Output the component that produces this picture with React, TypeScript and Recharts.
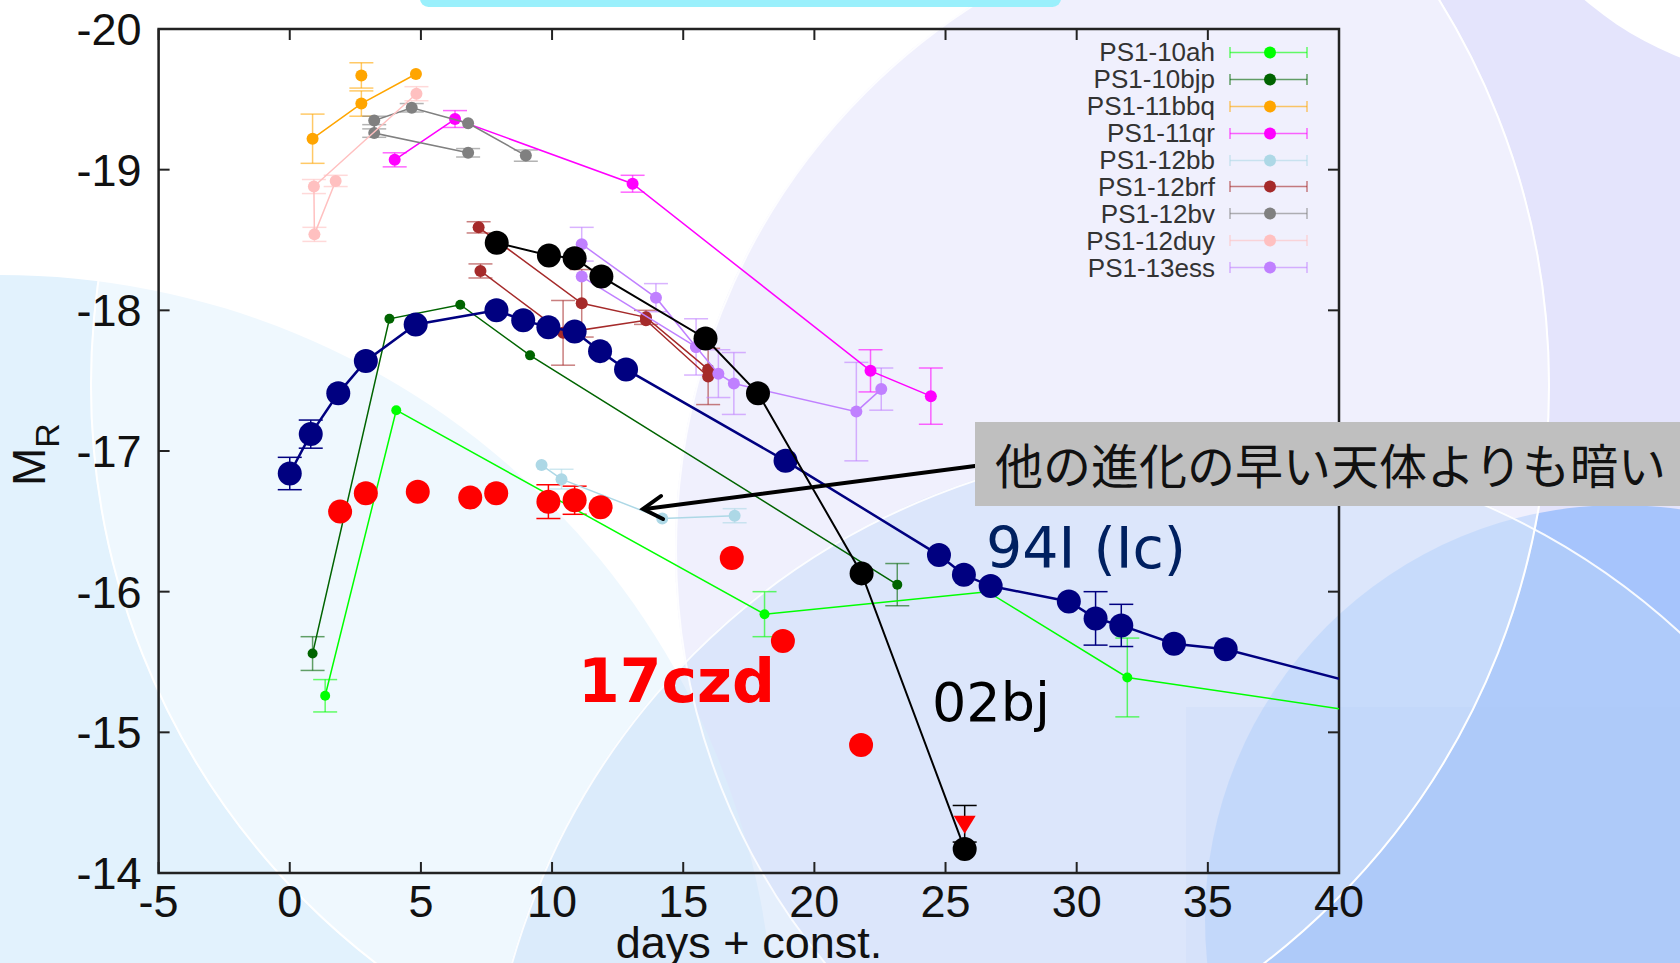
import React from 'react';
import {
    ScatterChart,
    Scatter,
    XAxis,
    YAxis,
    ErrorBar,
    ReferenceArea,
    Legend,
    Label,
} from 'recharts';

type Pt = { x: number; y: number; e?: number };

// PS1 fast transients
const ps1_10ah: Pt[] = [
    { x: 1.35, y: -15.26, e: 0.115 },
    { x: 4.06, y: -17.29 },
    { x: 18.1, y: -15.84, e: 0.16 },
    { x: 26.6, y: -16.0 },
    { x: 31.93, y: -15.39, e: 0.28 },
    { x: 45, y: -15.03 },
];
const ps1_10bjp: Pt[] = [
    { x: 0.87, y: -15.56, e: 0.12 },
    { x: 3.8, y: -17.94 },
    { x: 6.5, y: -18.04 },
    { x: 9.16, y: -17.68 },
    { x: 23.16, y: -16.05, e: 0.15 },
];
const ps1_11bbq: Pt[] = [
    { x: 0.87, y: -19.22, e: 0.175 },
    { x: 2.73, y: -19.47, e: 0.09 },
    { x: 4.81, y: -19.68 },
];
const ps1_11bbqExtra: Pt[] = [{ x: 2.73, y: -19.67, e: 0.09 }];
const ps1_11qr: Pt[] = [
    { x: 4.0, y: -19.07, e: 0.05 },
    { x: 6.3, y: -19.36, e: 0.06 },
    { x: 13.07, y: -18.9, e: 0.06 },
    { x: 22.14, y: -17.57, e: 0.15 },
    { x: 24.44, y: -17.39, e: 0.2 },
];
const ps1_12bb: Pt[] = [
    { x: 9.6, y: -16.9 },
    { x: 10.36, y: -16.8, e: 0.07 },
    { x: 14.2, y: -16.52 },
    { x: 16.96, y: -16.54, e: 0.05 },
];
const ps1_12brfA: Pt[] = [
    { x: 7.2, y: -18.59, e: 0.04 },
    { x: 11.13, y: -18.05, e: 0.24 },
    { x: 13.58, y: -17.95, e: 0.05 },
    { x: 15.95, y: -17.58 },
];
const ps1_12brfB: Pt[] = [
    { x: 7.27, y: -18.28, e: 0.05 },
    { x: 10.42, y: -17.84, e: 0.23 },
    { x: 13.58, y: -17.93 },
    { x: 15.95, y: -17.53, e: 0.2 },
];
const ps1_12bv: Pt[] = [
    { x: 6.8, y: -19.12, e: 0.03 },
    { x: 3.22, y: -19.26, e: 0.03 },
    { x: 3.22, y: -19.35, e: 0.03 },
    { x: 4.65, y: -19.44, e: 0.03 },
    { x: 6.8, y: -19.33 },
    { x: 9.0, y: -19.1, e: 0.04 },
];
const ps1_12duy: Pt[] = [
    { x: 4.83, y: -19.54, e: 0.05 },
    { x: 0.92, y: -18.88, e: 0.05 },
    { x: 0.94, y: -18.54, e: 0.05 },
    { x: 1.75, y: -18.92, e: 0.04 },
];
const ps1_13essA: Pt[] = [
    { x: 11.13, y: -18.47, e: 0.12 },
    { x: 13.96, y: -18.09, e: 0.1 },
    { x: 15.49, y: -17.74, e: 0.2 },
    { x: 16.34, y: -17.55, e: 0.17 },
    { x: 16.93, y: -17.48, e: 0.22 },
    { x: 21.6, y: -17.28, e: 0.35 },
    { x: 22.55, y: -17.44, e: 0.15 },
];
const ps1_13essB: Pt[] = [
    { x: 11.13, y: -18.24 },
    { x: 15.49, y: -17.74 },
];

// comparison SNe and 17czd
const sn1994I: Pt[] = [
    { x: 0, y: -16.84, e: 0.115 },
    { x: 0.8, y: -17.12, e: 0.1 },
    { x: 1.85, y: -17.41 },
    { x: 2.9, y: -17.64 },
    { x: 4.8, y: -17.9 },
    { x: 7.88, y: -18.0 },
    { x: 8.9, y: -17.93 },
    { x: 9.86, y: -17.88 },
    { x: 10.86, y: -17.85 },
    { x: 11.83, y: -17.71 },
    { x: 12.82, y: -17.58 },
    { x: 18.9, y: -16.93 },
    { x: 24.75, y: -16.26 },
    { x: 25.7, y: -16.12 },
    { x: 26.72, y: -16.04 },
    { x: 29.7, y: -15.93 },
    { x: 30.72, y: -15.81, e: 0.19 },
    { x: 31.7, y: -15.76, e: 0.15 },
    { x: 33.71, y: -15.63 },
    { x: 35.68, y: -15.59 },
    { x: 45, y: -15.14 },
];
const sn2002bj: Pt[] = [
    { x: 7.89, y: -18.48 },
    { x: 9.88, y: -18.39 },
    { x: 10.86, y: -18.37 },
    { x: 11.88, y: -18.24 },
    { x: 15.85, y: -17.8 },
    { x: 17.85, y: -17.41 },
    { x: 21.8, y: -16.13 },
    { x: 25.73, y: -14.17 },
];
const sn17czd: Pt[] = [
    { x: 1.92, y: -16.57 },
    { x: 2.9, y: -16.7 },
    { x: 4.88, y: -16.71 },
    { x: 6.88, y: -16.67 },
    { x: 7.87, y: -16.7 },
    { x: 9.86, y: -16.64, e: 0.12 },
    { x: 10.86, y: -16.65, e: 0.1 },
    { x: 11.85, y: -16.6 },
    { x: 16.85, y: -16.24 },
    { x: 18.8, y: -15.65 },
    { x: 21.78, y: -14.91 },
];
const sn17czdLimit: Pt[] = [{ x: 25.73, y: -14.35, e: 0.13 }];

const xTicks = [-5, 0, 5, 10, 15, 20, 25, 30, 35, 40];
const yTicks = [-20, -19, -18, -17, -16, -15, -14];
const legendNames = [
    'PS1-10ah',
    'PS1-10bjp',
    'PS1-11bbq',
    'PS1-11qr',
    'PS1-12bb',
    'PS1-12brf',
    'PS1-12bv',
    'PS1-12duy',
    'PS1-13ess',
];

const COLORS: Record<string, string> = {
    'PS1-10ah': '#00ff00',
    'PS1-10bjp': '#006400',
    'PS1-11bbq': '#ffa500',
    'PS1-11qr': '#ff00ff',
    'PS1-12bb': '#add8e6',
    'PS1-12brf': '#a52a2a',
    'PS1-12bv': '#808080',
    'PS1-12duy': '#ffc0c0',
    'PS1-13ess': '#c080ff',
    '94I': '#000080',
    '02bj': '#000000',
    '17czd': '#ff0000',
};

const PLOT = { left: 158.6, right: 1339, top: 29, bottom: 873 };
const AXIS_FONT = "'Liberation Sans', Arial, Helvetica, sans-serif";
const TICK = 11;

const dot = (color: string, r: number) => (p: any) =>
    p.cx == null ? <g /> : <circle cx={p.cx} cy={p.cy} r={r} fill={color} />;

const triangle = (color: string) => (p: any) =>
    p.cx == null ? (
        <g />
    ) : (
        <path
            d={`M${p.cx - 11},${p.cy - 8} L${p.cx + 11},${p.cy - 8} L${p.cx},${p.cy + 10} Z`}
            fill={color}
        />
    );

const XTick = (props: any) => {
    const { x, payload } = props;
    return (
        <g>
            <line x1={x} x2={x} y1={PLOT.bottom} y2={PLOT.bottom - TICK} stroke="#222" strokeWidth={2} />
            <line x1={x} x2={x} y1={PLOT.top} y2={PLOT.top + TICK} stroke="#222" strokeWidth={2} />
            <text
                x={x}
                y={PLOT.bottom + 44}
                textAnchor="middle"
                fontSize={45}
                fill="#111"
                fontFamily={AXIS_FONT}
            >
                {payload.value}
            </text>
        </g>
    );
};

const YTick = (props: any) => {
    const { y, payload } = props;
    return (
        <g>
            <line x1={PLOT.left} x2={PLOT.left + TICK} y1={y} y2={y} stroke="#222" strokeWidth={2} />
            <line x1={PLOT.right - TICK} x2={PLOT.right} y1={y} y2={y} stroke="#222" strokeWidth={2} />
            <text
                x={PLOT.left - 17}
                y={y + 16}
                textAnchor="end"
                fontSize={45}
                fill="#111"
                fontFamily={AXIS_FONT}
            >
                {payload.value}
            </text>
        </g>
    );
};

const renderLegend = () => (
    <div style={{ fontFamily: AXIS_FONT, fontSize: 26, color: '#333' }}>
        {legendNames.map((n) => (
            <div key={n} style={{ display: 'flex', alignItems: 'center', height: 26.9 }}>
                <span style={{ width: 215, textAlign: 'right', lineHeight: 1 }}>{n}</span>
                <svg width={94} height={26.9}>
                    <g stroke={COLORS[n]} strokeOpacity={0.6} strokeWidth={1.5}>
                        <line x1={15} x2={92} y1={13.45} y2={13.45} />
                        <line x1={15} x2={15} y1={8} y2={19} />
                        <line x1={92} x2={92} y1={8} y2={19} />
                    </g>
                    <circle cx={55} cy={13.45} r={6} fill={COLORS[n]} />
                </svg>
            </div>
        ))}
    </div>
);

const renderMR = () => (
    <text
        transform="translate(45, 486) rotate(-90)"
        fontSize={46}
        fill="#111"
        fontFamily={AXIS_FONT}
    >
        M<tspan fontSize={34} dy={14}>R</tspan>
    </text>
);

const renderDays = () => (
    <text x={749} y={958} textAnchor="middle" fontSize={45} fill="#111" fontFamily={AXIS_FONT}>
        days + const.
    </text>
);

type Series = { key: string; color: string; data: Pt[]; r: number; lw: number; line: boolean };

const series: Series[] = [
    { key: 'a1', color: COLORS['PS1-10ah'], data: ps1_10ah, r: 5, lw: 1.5, line: true },
    { key: 'a2', color: COLORS['PS1-10bjp'], data: ps1_10bjp, r: 5, lw: 1.5, line: true },
    { key: 'a3', color: COLORS['PS1-11bbq'], data: ps1_11bbq, r: 6, lw: 1.5, line: true },
    { key: 'a3b', color: COLORS['PS1-11bbq'], data: ps1_11bbqExtra, r: 6, lw: 1.5, line: false },
    { key: 'a4', color: COLORS['PS1-11qr'], data: ps1_11qr, r: 6, lw: 1.5, line: true },
    { key: 'a5', color: COLORS['PS1-12bb'], data: ps1_12bb, r: 6, lw: 1.5, line: true },
    { key: 'a6', color: COLORS['PS1-12brf'], data: ps1_12brfA, r: 6, lw: 1.5, line: true },
    { key: 'a6b', color: COLORS['PS1-12brf'], data: ps1_12brfB, r: 6, lw: 1.5, line: true },
    { key: 'a7', color: COLORS['PS1-12bv'], data: ps1_12bv, r: 6, lw: 1.5, line: true },
    { key: 'a8', color: COLORS['PS1-12duy'], data: ps1_12duy, r: 6, lw: 1.5, line: true },
    { key: 'a9', color: COLORS['PS1-13ess'], data: ps1_13essA, r: 6, lw: 1.5, line: true },
    { key: 'a9b', color: COLORS['PS1-13ess'], data: ps1_13essB, r: 6, lw: 1.5, line: true },
    { key: 'b1', color: COLORS['94I'], data: sn1994I, r: 12, lw: 2.5, line: true },
    { key: 'b2', color: COLORS['02bj'], data: sn2002bj, r: 12, lw: 2, line: true },
    { key: 'b3', color: COLORS['17czd'], data: sn17czd, r: 12, lw: 0, line: false },
];

const disc = (cx: number, cy: number, r: number, style: React.CSSProperties) => (
    <div
        style={{
            position: 'absolute',
            left: cx - r,
            top: cy - r,
            width: 2 * r,
            height: 2 * r,
            borderRadius: '50%',
            boxSizing: 'border-box',
            ...style,
        }}
    />
);

const App = () => {
    return (
        <div
            style={{
                position: 'absolute',
                left: 0,
                top: 0,
                width: 1680,
                height: 963,
                overflow: 'hidden',
                background: '#ffffff',
            }}
        >
            {/* slide background */}
            {disc(1323, 550, 648, { background: '#e4e4fc' })}
            {disc(0, 1050, 775, { background: '#e2f2fd' })}
            {disc(1620, 920, 415, { background: '#a6c4fc' })}
            {disc(820, 385, 730, { background: 'rgba(255,255,255,0.45)' })}
            {disc(1198, 1158, 714, { background: 'rgba(190,215,248,0.4)' })}
            <div
                style={{
                    position: 'absolute',
                    left: 1186,
                    top: 707,
                    width: 494,
                    height: 256,
                    background: 'rgba(170,200,250,0.12)',
                }}
            />
            {disc(1323, 550, 648, { border: '2px solid rgba(255,255,255,0.85)' })}
            {disc(820, 385, 730, { border: '2px solid #fff' })}
            {disc(1198, 1158, 714, { border: '2px solid rgba(255,255,255,0.9)' })}
            {disc(1800, -250, 330, { background: '#fff' })}
            <div
                style={{
                    position: 'absolute',
                    left: 420,
                    top: -10,
                    width: 641,
                    height: 17,
                    borderRadius: 10,
                    background: '#9af0fc',
                }}
            />

            <div style={{ position: 'absolute', left: 0, top: 0 }}>
                <ScatterChart
                    width={1680}
                    height={963}
                    margin={{ top: 29, right: 341, bottom: 30, left: 98.6 }}
                >
                    <XAxis
                        type="number"
                        dataKey="x"
                        domain={[-5, 40]}
                        ticks={xTicks}
                        interval={0}
                        allowDataOverflow
                        axisLine={false}
                        tickLine={false}
                        tick={XTick}
                        height={60}
                    >
                        <Label content={renderDays} />
                    </XAxis>
                    <YAxis
                        type="number"
                        dataKey="y"
                        domain={[-20, -14]}
                        reversed
                        ticks={yTicks}
                        interval={0}
                        allowDataOverflow
                        axisLine={false}
                        tickLine={false}
                        tick={YTick}
                        width={60}
                    >
                        <Label content={renderMR} />
                    </YAxis>
                    {series.map((s) => (
                        <Scatter
                            key={s.key}
                            data={s.data}
                            fill={s.color}
                            line={s.line ? { stroke: s.color, strokeWidth: s.lw } : false}
                            lineType="joint"
                            shape={dot(s.color, s.r)}
                            legendType="none"
                            isAnimationActive={false}
                        >
                            <ErrorBar
                                dataKey="e"
                                direction="y"
                                width={12}
                                stroke={s.color}
                                strokeOpacity={s.r > 10 ? 1 : 0.6}
                                strokeWidth={1.5}
                            />
                        </Scatter>
                    ))}
                    <Scatter
                        data={sn17czdLimit}
                        fill={COLORS['17czd']}
                        shape={triangle(COLORS['17czd'])}
                        legendType="none"
                        isAnimationActive={false}
                    >
                        <ErrorBar dataKey="e" direction="y" width={12} stroke="#000" strokeWidth={1.5} />
                    </Scatter>
                    <ReferenceArea
                        x1={-5}
                        x2={40}
                        y1={-20}
                        y2={-14}
                        fill="none"
                        stroke="#222"
                        strokeWidth={2.5}
                        ifOverflow="visible"
                    />
                    <Legend
                        content={renderLegend}
                        layout="horizontal"
                        verticalAlign="middle"
                        align="center"
                        wrapperStyle={{ left: 1000, top: 39, width: 320, height: 245 }}
                    />
                </ScatterChart>
            </div>

            {/* annotations */}
            <svg
                width={1680}
                height={963}
                style={{ position: 'absolute', left: 0, top: 0, pointerEvents: 'none' }}
            >
                <g stroke="#000" strokeWidth={4} fill="none" strokeLinecap="round">
                    <line x1={975} y1={466} x2={645} y2={509} />
                    <path d="M663,519 L643,509 L661,496" />
                </g>
                <text
                    x={578}
                    y={702}
                    fontSize={60}
                    fontWeight="bold"
                    fill="#ff0000"
                    fontFamily="'DejaVu Sans', Verdana, sans-serif"
                >
                    17czd
                </text>
                <text
                    x={932}
                    y={721}
                    fontSize={54}
                    fill="#000"
                    fontFamily="'DejaVu Sans', Verdana, sans-serif"
                >
                    02bj
                </text>
                <text
                    x={986}
                    y={568}
                    fontSize={57}
                    fill="#002060"
                    fontFamily="'DejaVu Sans', Verdana, sans-serif"
                >
                    94I (Ic)
                </text>
                <rect x={975} y={422} width={705} height={84} fill="#bfbfbf" />
                <text
                    x={995}
                    y={484}
                    fontSize={48}
                    fill="#111"
                    fontFamily="'Noto Sans CJK JP', sans-serif"
                >
                    他の進化の早い天体よりも暗い
                </text>
            </svg>
        </div>
    );
};

export default App;
